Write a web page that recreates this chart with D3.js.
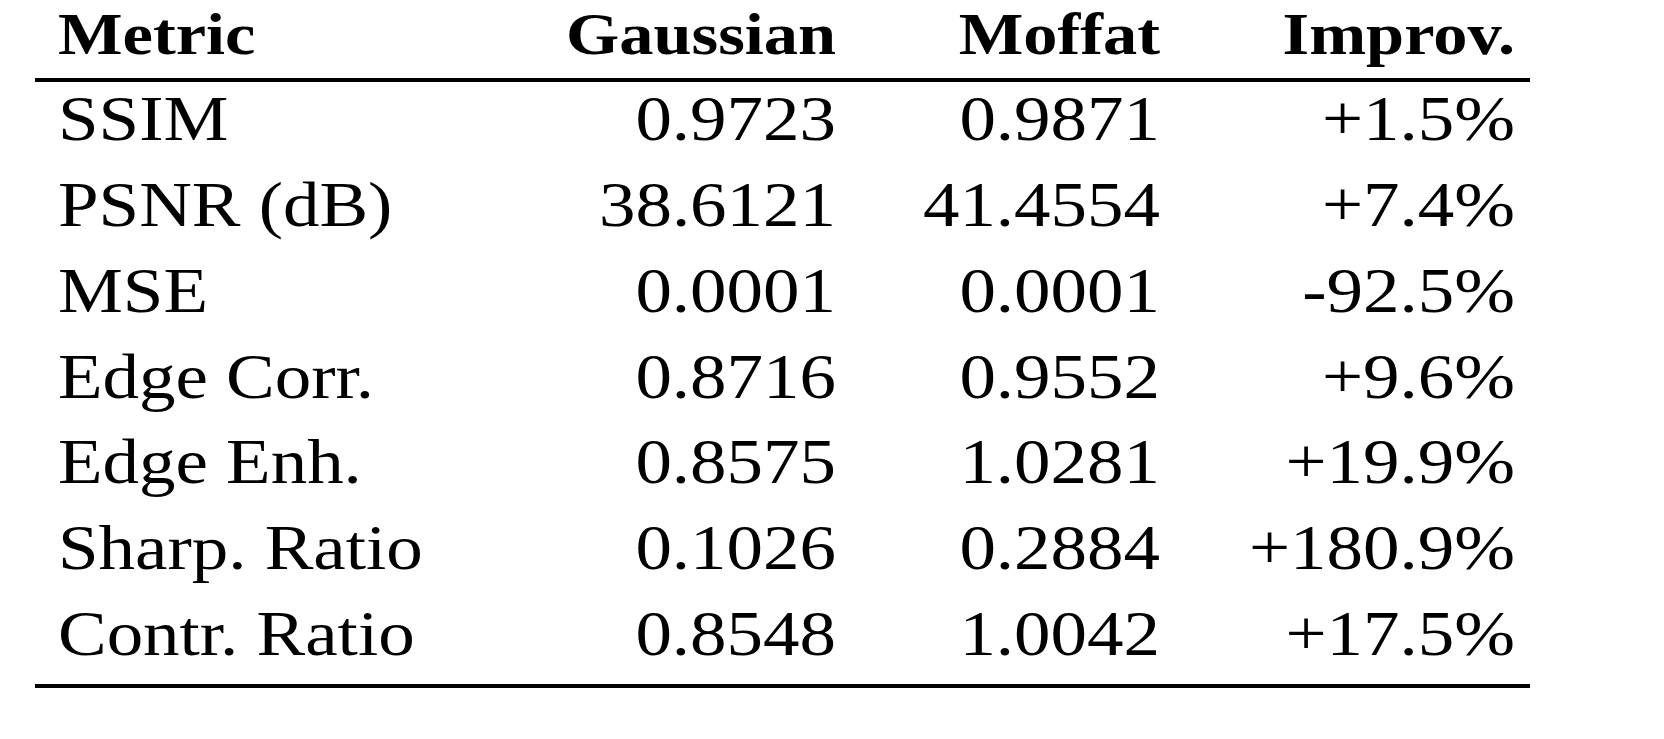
<!DOCTYPE html>
<html><head><meta charset="utf-8">
<script src="https://cdn.jsdelivr.net/npm/d3@7"></script>
<style>body{margin:0;background:#fff}</style>
</head><body>
<svg width="1664" height="739"></svg>
<script>
const headers = ["Metric", "Gaussian", "Moffat", "Improv."];
const metrics = ["SSIM", "PSNR (dB)", "MSE", "Edge Corr.", "Edge Enh.", "Sharp. Ratio", "Contr. Ratio"];
const gaussian = ["0.9723", "38.6121", "0.0001", "0.8716", "0.8575", "0.1026", "0.8548"];
const moffat = ["0.9871", "41.4554", "0.0001", "0.9552", "1.0281", "0.2884", "1.0042"];
const improv = ["+1.5%", "+7.4%", "-92.5%", "+9.6%", "+19.9%", "+180.9%", "+17.5%"];

const svg = d3.select("svg");
const font = "'Liberation Serif', serif";
const sx = 1.14; // widen the glyphs toward the reference's book face
const colX = [58, 836, 1160, 1515];
const anchors = ["start", "end", "end", "end"];

const y = d3.scaleLinear().domain([0, metrics.length - 1]).range([140, 655]);

svg.append("line").attr("x1", 35).attr("x2", 1530).attr("y1", 80).attr("y2", 80)
  .attr("stroke", "#000").attr("stroke-width", 4);
svg.append("line").attr("x1", 35).attr("x2", 1530).attr("y1", 686).attr("y2", 686)
  .attr("stroke", "#000").attr("stroke-width", 4);

const t = svg.append("g").attr("transform", "scale(" + sx + ",1)");

t.selectAll("text.h").data(headers).enter().append("text")
  .attr("x", (d, i) => colX[i] / sx).attr("y", 54)
  .attr("text-anchor", (d, i) => anchors[i])
  .attr("font-family", font).attr("font-weight", "bold").attr("font-size", 60)
  .text(d => d);

const rows = metrics.map((m, i) => [m, gaussian[i], moffat[i], improv[i]]);
const g = t.selectAll("g.row").data(rows).enter().append("g")
  .attr("transform", (d, i) => "translate(0," + y(i) + ")");
g.selectAll("text").data(d => d).enter().append("text")
  .attr("x", (d, i) => colX[i] / sx)
  .attr("text-anchor", (d, i) => anchors[i])
  .attr("font-family", font).attr("font-size", 64)
  .text(d => d);
</script>
</body></html>
